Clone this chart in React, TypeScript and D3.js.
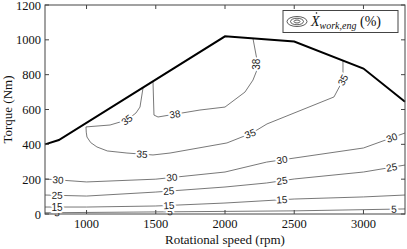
import * as d3 from "d3";
import React from "react";

// axis ticks
const speedTicks = [1000, 1500, 2000, 2500, 3000];
const torqueTicks = [0, 200, 400, 600, 800, 1000, 1200];

// full-load torque curve
const maxTorqueSpeed = [700, 800, 2000, 2500, 3000, 3300];
const maxTorque = [400, 425, 1020, 990, 835, 645];

// iso-efficiency contours, [rpm, Nm]
const contour5 = [[700, 7], [1500, 12], [2500, 18], [3300, 29]];
const contour15 = [[700, 40], [1000, 40], [1500, 46], [2000, 63], [2500, 86], [3000, 98], [3300, 109]];
const contour25 = [[700, 109], [1000, 103], [1500, 126], [2000, 155], [2300, 178], [2500, 201], [3000, 241], [3300, 281]];
const contour30 = [[700, 201], [1000, 184], [1500, 200], [2000, 241], [2300, 298], [3000, 379], [3300, 465]];
const contour35 = [
  [1408, 724], [1386, 614], [1357, 580], [1292, 540], [1170, 511], [996, 500], [998, 470], [1003, 442],
  [1030, 410], [1075, 385], [1150, 362], [1292, 350], [1480, 339], [1603, 350], [2014, 408], [2195, 465],
  [2303, 517], [2787, 672], [2852, 769], [2852, 881],
];
const contour38 = [
  [1480, 760], [1487, 568], [1516, 557], [1819, 597], [2000, 614], [2144, 700], [2202, 769], [2231, 827],
  [2231, 884], [2202, 1008],
];
const contourLevels = [5, 15, 25, 30, 35, 38];
const contourLines = [contour5, contour15, contour25, contour30, contour35, contour38];

// label anchors, [level, rpm, Nm]
const contourLabels = [
  [5, 787, 8], [5, 1603, 12], [5, 3220, 26],
  [15, 787, 42], [15, 1595, 50], [15, 2411, 80],
  [25, 787, 103], [25, 1595, 126], [25, 2411, 190], [25, 3205, 258],
  [30, 794, 195], [30, 1617, 207], [30, 2411, 310], [30, 3205, 436],
  [35, 1292, 540], [35, 1400, 339], [35, 2180, 465], [35, 2852, 769],
  [38, 1639, 568], [38, 2231, 860],
];

const W = 407;
const H = 249;
const margin = { top: 5, right: 2, bottom: 35, left: 45 };

export default function App() {
  const x = d3.scaleLinear().domain([700, 3300]).range([margin.left, W - margin.right]);
  const y = d3.scaleLinear().domain([0, 1200]).range([H - margin.bottom, margin.top]);
  const line = d3.line<number[]>().x((d) => x(d[0])).y((d) => y(d[1]));
  const x0 = margin.left, x1 = W - margin.right, y0 = H - margin.bottom, y1 = margin.top;
  const tl = 4;
  const serif = "'Liberation Serif', 'Times New Roman', serif";

  const labelPos = (lvl: number, rpm: number, nm: number) => {
    const pts = contourLines[contourLevels.indexOf(lvl)].map((p) => [x(p[0]), y(p[1])]);
    const px = x(rpm), py = y(nm);
    let best = { d: Infinity, x: px, y: py, a: 0 };
    for (let i = 0; i < pts.length - 1; i++) {
      const [ax, ay] = pts[i], [bx, by] = pts[i + 1];
      const dx = bx - ax, dy = by - ay;
      const t = Math.max(0, Math.min(1, ((px - ax) * dx + (py - ay) * dy) / (dx * dx + dy * dy)));
      const cx = ax + t * dx, cy = ay + t * dy;
      const d = (cx - px) ** 2 + (cy - py) ** 2;
      if (d < best.d) {
        let a = (Math.atan2(dy, dx) * 180) / Math.PI;
        if (a > 90) a -= 180;
        if (a < -90) a += 180;
        best = { d, x: cx, y: cy, a };
      }
    }
    return best;
  };

  return (
    <svg width={W} height={H} style={{ position: "fixed", left: 0, top: 0, background: "#fff" }}>
      <rect x={0} y={0} width={W} height={H} fill="#fff" />
      {contourLines.map((c, i) => (
        <path key={i} d={line(c) ?? ""} fill="none" stroke="#555" strokeWidth={0.8} />
      ))}
      {contourLabels.map(([lvl, rpm, nm], i) => {
        const p = labelPos(lvl, rpm, nm);
        return (
          <text
            key={i}
            transform={`translate(${p.x},${p.y}) rotate(${p.a})`}
            textAnchor="middle"
            dominantBaseline="central"
            fontFamily="'Liberation Sans', Arial, sans-serif"
            fontSize={10}
            fill="#222"
            stroke="#fff"
            strokeWidth={4}
            paintOrder="stroke"
            strokeLinejoin="round"
          >
            {lvl}
          </text>
        );
      })}
      <path
        d={line(maxTorqueSpeed.map((s, i) => [s, maxTorque[i]])) ?? ""}
        fill="none"
        stroke="#000"
        strokeWidth={2}
      />
      <rect x={x0} y={y1} width={x1 - x0} height={y0 - y1} fill="none" stroke="#444" strokeWidth={1} />
      {speedTicks.map((t) => (
        <g key={t}>
          <line x1={x(t)} x2={x(t)} y1={y0} y2={y0 - tl} stroke="#444" />
          <line x1={x(t)} x2={x(t)} y1={y1} y2={y1 + tl} stroke="#444" />
          <text x={x(t)} y={y0 + 14} textAnchor="middle" fontFamily={serif} fontSize={12.5} fill="#111">
            {t}
          </text>
        </g>
      ))}
      {torqueTicks.map((t) => (
        <g key={t}>
          <line x1={x0} x2={x0 + tl} y1={y(t)} y2={y(t)} stroke="#444" />
          <line x1={x1} x2={x1 - tl} y1={y(t)} y2={y(t)} stroke="#444" />
          <text x={x0 - 4} y={y(t) + 4.5} textAnchor="end" fontFamily={serif} fontSize={12.5} fill="#111">
            {t}
          </text>
        </g>
      ))}
      <text x={(x0 + x1) / 2} y={H - 5} textAnchor="middle" fontFamily={serif} fontSize={13} fill="#111">
        Rotational speed (rpm)
      </text>
      <text
        transform={`translate(12,${(y0 + y1) / 2}) rotate(-90)`}
        textAnchor="middle"
        fontFamily={serif}
        fontSize={13}
        fill="#111"
      >
        Torque (Nm)
      </text>
      <g>
        <rect x={283} y={10.5} width={115} height={22} fill="#fff" stroke="#444" strokeWidth={1} />
        {[10, 6.5, 3].map((r, i) => (
          <ellipse key={i} cx={297} cy={21.5} rx={r} ry={r * 0.5} fill="none" stroke="#333" strokeWidth={0.8} />
        ))}
        <text x={311} y={26} fontFamily={serif} fontSize={14} fill="#111">
          <tspan fontStyle="italic">X</tspan>
          <tspan fontStyle="italic" fontSize={10} dy={3}>work,eng</tspan>
          <tspan dy={-3}> (%)</tspan>
        </text>
        <circle cx={316.5} cy={13} r={0.8} fill="#111" />
      </g>
    </svg>
  );
}
